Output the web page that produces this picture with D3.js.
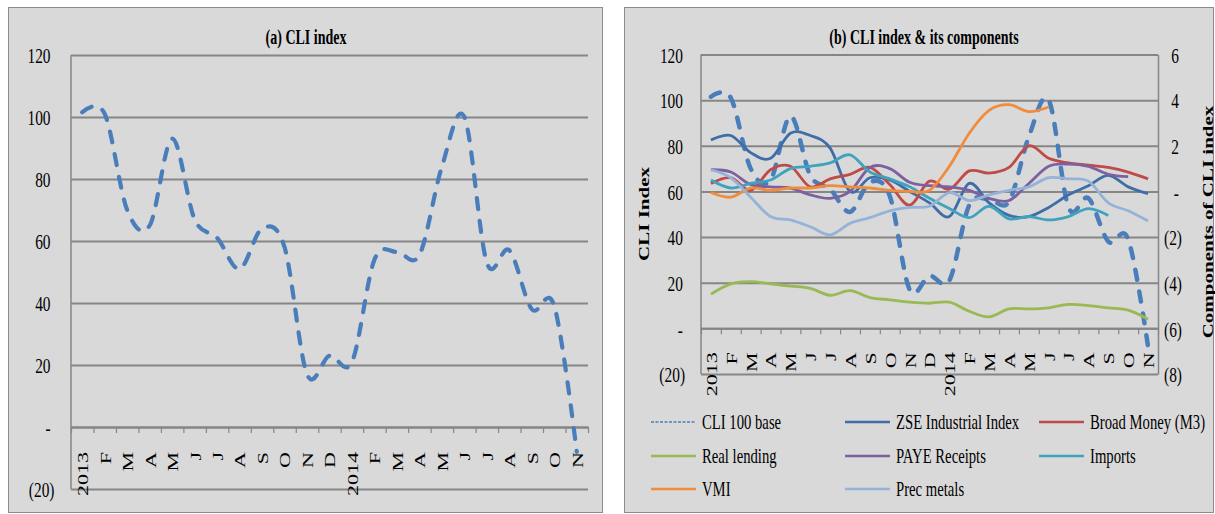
<!DOCTYPE html>
<html>
<head>
<meta charset="utf-8">
<script src="https://cdn.jsdelivr.net/npm/d3@7"></script>
<style>
    body { margin: 0; background: #fff; }
    text { font-family: "Liberation Serif", "Times New Roman", serif; fill: #000; }
</style>
</head>
<body>
<div id="chart"></div>
<script>
// Month labels, Jan 2013 .. Nov 2014
const months = ['2013', 'F', 'M', 'A', 'M', 'J', 'J', 'A', 'S', 'O', 'N', 'D',
    '2014', 'F', 'M', 'A', 'M', 'J', 'J', 'A', 'S', 'O', 'N'];

// CLI, 100 base (left axis)
const cliIndex = [101.5, 101, 70, 65, 93, 67, 61, 51, 64, 58, 17, 23,
    21, 54, 56.5, 55.5, 84, 100, 53, 57, 38, 39, -8];

// Components (right axis)
const zseIndustrial = [2.25, 2.45, 1.7, 1.45, 2.55, 2.45, 1.9, 0, 0.6, 0.5, 0, -0.5,
    -1.1, 0.35, -0.5, -1.05, -1.1, -0.7, -0.15, 0.25, 0.7, 0.2, -0.1];
const broadMoney = [0.35, 0.6, 0.05, 0.95, 1.1, 0.2, 0.55, 0.75, 1.05, 0.3, -0.6, 0.45,
    0.1, 0.9, 0.8, 1.05, 2.0, 1.45, 1.25, 1.15, 1.05, 0.85, 0.55];
const realLending = [-4.5, -4.05, -3.95, -4.05, -4.15, -4.25, -4.55, -4.35, -4.65, -4.75, -4.85, -4.9,
    -4.85, -5.25, -5.5, -5.15, -5.15, -5.1, -4.95, -5.0, -5.1, -5.2, -5.6];
const payeReceipts = [0.95, 0.85, 0.3, 0.2, 0.15, -0.15, -0.3, 0, 1.05, 1.0, 0.4, 0.25,
    0.2, 0.05, -0.3, -0.4, 0.35, 1.1, 1.2, 1.1, 0.75, 0.65, null];
const imports = [0.5, 0.15, 0.35, 0.5, 1.0, 1.1, 1.25, 1.6, 0.85, 0.55, 0.2, -0.3,
    -0.75, -1.15, -0.65, -1.2, -1.1, -1.25, -1.1, -0.75, -1.05, null, null];
const vmi = [-0.05, -0.25, 0.15, 0.05, 0.15, 0.15, 0.25, 0.2, 0.15, 0.05, 0, 0.05,
    1.1, 2.55, 3.55, 3.8, 3.5, 3.7, null, null, null, null, null];
const precMetals = [0.95, 0.6, -0.25, -1.1, -1.25, -1.55, -1.9, -1.4, -1.15, -0.85, -0.7, -0.65,
    -0.05, -0.4, -0.15, 0.05, 0.2, 0.6, 0.55, 0.45, -0.5, -0.85, -1.3];

const leftTicks = [-20, 0, 20, 40, 60, 80, 100, 120];
const rightTicks = [-8, -6, -4, -2, 0, 2, 4, 6];

const components = [
    { name: 'ZSE Industrial Index', values: zseIndustrial, color: '#3E6DA8' },
    { name: 'Broad Money (M3)', values: broadMoney, color: '#BE4B48' },
    { name: 'Real lending', values: realLending, color: '#98B954' },
    { name: 'PAYE Receipts', values: payeReceipts, color: '#7D60A0' },
    { name: 'Imports', values: imports, color: '#40A3BE' },
    { name: 'VMI', values: vmi, color: '#F08C3C' },
    { name: 'Prec metals', values: precMetals, color: '#95B3D9' }
];

const CLI_COLOR = '#4A7EBB';
const GRID = '#868686';
const SX = 0.7; // the original text is squeezed sideways

const fmtParen = (v) => v === 0 ? '-' : v < 0 ? `(${-v})` : `${v}`;

const svg = d3.select('#chart')
    .append('svg')
    .attr('width', 1215)
    .attr('height', 514);

// grey panel with border
const panel = (x0, y0, x1, y1) => {
    svg.append('rect')
        .attr('x', x0 + 0.5).attr('y', y0 + 0.5)
        .attr('width', x1 - x0).attr('height', y1 - y0)
        .attr('fill', '#d9d9d9')
        .attr('stroke', '#8c8c8c')
        .attr('stroke-width', 1);
};

// squeezed text helper
const label = (g, x, y, str, size, opts = {}) => {
    return g.append('text')
        .attr('transform', `translate(${x},${y}) scale(${SX},1)` + (opts.rotate ? ` rotate(${opts.rotate})` : ''))
        .attr('text-anchor', opts.anchor || 'start')
        .attr('dy', opts.dy || null)
        .style('font-size', size + 'px')
        .style('font-weight', opts.bold ? 'bold' : 'normal')
        .text(str);
};

// gridlines, y axis, month labels and tick marks
const drawFrame = (left, right, y, gapPos, gapNeg, labelOff) => {
    const g = svg.append('g');

    const yAxis = g.append('g')
        .attr('transform', `translate(${left},0)`)
        .call(d3.axisLeft(y).tickValues(leftTicks).tickSize(-(right - left)).tickFormat(fmtParen));
    yAxis.select('.domain').remove();
    yAxis.selectAll('.tick line').attr('stroke', GRID).attr('stroke-width', 2);
    yAxis.selectAll('.tick text')
        .attr('transform', `scale(${SX},1)`)
        .attr('x', (d) => -(d < 0 ? gapNeg : gapPos) / SX)
        .attr('dy', '0.35em')
        .style('font-size', '22px');

    g.append('line')
        .attr('x1', left).attr('x2', left)
        .attr('y1', y.range()[1]).attr('y2', y.range()[0])
        .attr('stroke', GRID).attr('stroke-width', 1.5);

    // tick marks on the month boundaries
    const xEdge = d3.scaleLinear().domain([0, months.length]).range([left, right]);
    const ticks = g.append('g')
        .attr('transform', `translate(0,${y(0)})`)
        .call(d3.axisBottom(xEdge).tickValues(d3.range(months.length + 1)).tickSize(6).tickSizeOuter(0).tickFormat(''));
    ticks.select('.domain').attr('stroke', GRID).attr('stroke-width', 2);
    ticks.selectAll('.tick line').attr('stroke', GRID).attr('stroke-width', 1.2);

    // month labels
    const x = d3.scalePoint().domain(d3.range(months.length)).range([left, right]).padding(0.5);
    const xAxis = g.append('g')
        .attr('transform', `translate(0,${y(0)})`)
        .call(d3.axisBottom(x).tickSize(0).tickFormat((i) => months[i]));
    xAxis.select('.domain').remove();
    xAxis.selectAll('.tick text')
        .attr('transform', `translate(0,${labelOff}) scale(${SX},1) rotate(-90)`)
        .attr('x', 0).attr('y', 0)
        .attr('dy', '0.35em')
        .attr('text-anchor', 'end')
        .style('font-size', '22px');

    return x;
};

const cliLine = (x, y) => d3.line()
    .defined((d) => d != null)
    .x((d, i) => x(i))
    .y((d) => y(d))
    .curve(d3.curveCardinal.tension(0));

// ---------- (a) CLI index ----------
panel(8, 7, 602, 512);
const yA = d3.scaleLinear().domain([-20, 120]).range([489, 55]);
const xA = drawFrame(71, 588, yA, 20.5, 16.5, 25);
label(svg, 306, 44, '(a) CLI index', 20, { anchor: 'middle', bold: true });

svg.append('path')
    .datum(cliIndex)
    .attr('fill', 'none')
    .attr('stroke', CLI_COLOR)
    .attr('stroke-width', 4.2)
    .attr('stroke-linecap', 'round')
    .attr('stroke-dasharray', '11,12')
    .attr('d', cliLine(xA, yA));

// ---------- (b) CLI index & its components ----------
panel(624, 7, 1213, 512);
const yB = d3.scaleLinear().domain([-20, 120]).range([374, 54.5]);
const yR = d3.scaleLinear().domain([-8, 6]).range([374, 54.5]);
const xB = drawFrame(701, 1158, yB, 18, 16, 24);
label(svg, 924, 44, '(b) CLI index & its components', 20, { anchor: 'middle', bold: true });

// right axis
const rAxis = svg.append('g')
    .attr('transform', 'translate(1158,0)')
    .call(d3.axisRight(yR).tickValues(rightTicks).tickSize(0).tickFormat(fmtParen));
rAxis.select('.domain').attr('stroke', GRID).attr('stroke-width', 1.5);
rAxis.selectAll('.tick text')
    .attr('transform', `scale(${SX},1)`)
    .attr('x', (d) => (d < 0 ? 24 : 21) / SX)
    .attr('dy', '0.35em')
    .attr('text-anchor', 'end')
    .style('font-size', '22px');

// axis titles
label(svg, 649, 214, 'CLI Index', 21, { anchor: 'middle', bold: true, rotate: -90 });
label(svg, 1213, 222, 'Components of CLI index', 21, { anchor: 'middle', bold: true, rotate: -90 });

// CLI first, components drawn over it
svg.append('path')
    .datum(cliIndex)
    .attr('fill', 'none')
    .attr('stroke', CLI_COLOR)
    .attr('stroke-width', 4.5)
    .attr('stroke-linecap', 'round')
    .attr('stroke-dasharray', '10,12')
    .attr('d', cliLine(xB, yB));

components.forEach((c) => {
    svg.append('path')
        .datum(c.values)
        .attr('fill', 'none')
        .attr('stroke', c.color)
        .attr('stroke-width', 2.8)
        .attr('stroke-linejoin', 'round')
        .attr('d', cliLine(xB, yR));
});

// legend, three columns
const legendItems = [{ name: 'CLI 100 base', color: CLI_COLOR, dashed: true }].concat(components);
const colX = [651, 845, 1039];
const rowY = [422, 456, 489];
const legend = svg.append('g');
legendItems.forEach((d, i) => {
    const lx = colX[i % 3];
    const ly = rowY[Math.floor(i / 3)];
    legend.append('line')
        .attr('x1', lx).attr('x2', lx + 45)
        .attr('y1', ly).attr('y2', ly)
        .attr('stroke', d.color)
        .attr('stroke-width', d.dashed ? 1.5 : 2.5)
        .attr('stroke-dasharray', d.dashed ? '3,1.5' : null);
    label(legend, lx + 51, ly, d.name, 21, { dy: '0.35em' });
});
</script>
</body>
</html>
